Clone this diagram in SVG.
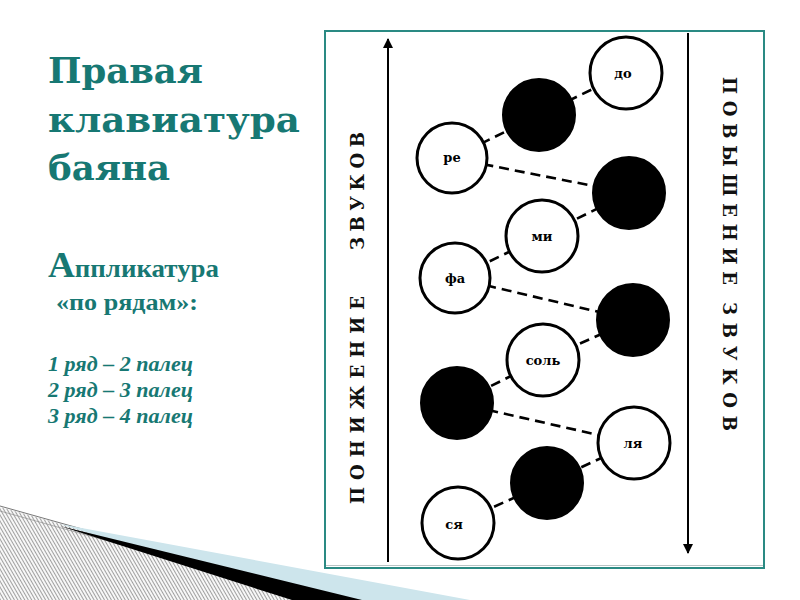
<svg xmlns="http://www.w3.org/2000/svg" width="800" height="600" viewBox="0 0 800 600">
<defs>
<style>
.title{font-family:"DejaVu Serif",serif;font-weight:bold;font-size:36px;fill:#177873}
.sub{font-family:"Liberation Serif",serif;font-weight:bold;fill:#177873}
.it{font-family:"Liberation Serif",serif;font-weight:bold;font-style:italic;font-size:20px;fill:#177873}
.vt{font-family:"DejaVu Serif",serif;font-weight:bold;font-size:18px;fill:#111}
.wc{fill:#fff;stroke:#000;stroke-width:3}
.bc{fill:#000;stroke:#000;stroke-width:2}
.lbl{font-family:"DejaVu Serif",serif;font-weight:bold;font-size:13px;fill:#000;text-anchor:middle}
.dash{stroke:#000;stroke-width:2.6;stroke-dasharray:10 6;fill:none}
.axis{stroke:#000;stroke-width:2;fill:none}
</style>
<pattern id="hatch" width="3" height="10" patternUnits="userSpaceOnUse" patternTransform="rotate(-30)">
<rect width="3" height="10" fill="#f7f7f7"/>
<line x1="0.5" y1="0" x2="0.5" y2="10" stroke="#8a8a8a" stroke-width="0.8"/>
</pattern>
<marker id="ah" viewBox="0 0 10 20" refX="9" refY="10" markerWidth="10" markerHeight="20" markerUnits="userSpaceOnUse" orient="auto">
<path d="M0,5 L10,10 L0,15 Z" fill="#000"/>
</marker>
</defs>
<rect width="800" height="600" fill="#fff"/>
<g id="decoration">
<polygon points="0,507 335,600 0,600" fill="url(#hatch)"/>
<line x1="0" y1="506" x2="335" y2="600" stroke="#555" stroke-width="0.8"/>
<line x1="0" y1="511" x2="320" y2="600" stroke="#888" stroke-width="0.6"/>
<polygon points="60,524 470,600 300,600" fill="#cde5ec"/>
<polygon points="60,526 362,600 292,600" fill="#000"/>
</g>
<g id="frame">
<rect x="325" y="31" width="439" height="537" fill="#fff" stroke="#2a8a83" stroke-width="2"/>
<line x1="326" y1="565.5" x2="763" y2="565.5" stroke="#b8c4c4" stroke-width="1"/>
</g>
<g id="heading">
<text class="title" x="48" y="83" textLength="155" lengthAdjust="spacingAndGlyphs">Правая</text>
<text class="title" x="48" y="132" textLength="252" lengthAdjust="spacingAndGlyphs">клавиатура</text>
<text class="title" x="48" y="180" textLength="122" lengthAdjust="spacingAndGlyphs">баяна</text>
<text class="sub" x="48" y="277" textLength="171" lengthAdjust="spacingAndGlyphs"><tspan font-size="36">А</tspan><tspan font-size="26">ппликатура</tspan></text>
<text class="sub" x="56" y="310" font-size="24" textLength="142" lengthAdjust="spacingAndGlyphs">«по рядам»:</text>
<text class="it" x="48" y="371" textLength="145" lengthAdjust="spacingAndGlyphs">1 ряд – 2 палец</text>
<text class="it" x="48" y="397" textLength="145" lengthAdjust="spacingAndGlyphs">2 ряд – 3 палец</text>
<text class="it" x="48" y="423" textLength="145" lengthAdjust="spacingAndGlyphs">3 ряд – 4 палец</text>
</g>
<g id="axis-down-label">
<text class="vt" transform="translate(364,504) rotate(-90)" x="0" y="0" textLength="208" lengthAdjust="spacing">ПОНИЖЕНИЕ</text>
<text class="vt" transform="translate(364,250) rotate(-90)" x="0" y="0" textLength="118" lengthAdjust="spacing">ЗВУКОВ</text>
</g>
<g id="axis-up-label">
<text class="vt" transform="translate(723,77) rotate(90)" x="0" y="0" textLength="208" lengthAdjust="spacing">ПОВЫШЕНИЕ</text>
<text class="vt" transform="translate(723,302) rotate(90)" x="0" y="0" textLength="129" lengthAdjust="spacing">ЗВУКОВ</text>
</g>
<g id="connectors">
<line class="axis" x1="388" y1="562" x2="388" y2="39" marker-end="url(#ah)"/>
<line class="axis" x1="688" y1="33" x2="688" y2="553" marker-end="url(#ah)"/>
<line class="dash" x1="539" y1="115" x2="626" y2="73"/>
<line class="dash" x1="452" y1="158" x2="539" y2="115"/>
<line class="dash" x1="452" y1="158" x2="629" y2="193"/>
<line class="dash" x1="629" y1="193" x2="542" y2="236"/>
<line class="dash" x1="542" y1="236" x2="455" y2="278"/>
<line class="dash" x1="455" y1="278" x2="633" y2="320"/>
<line class="dash" x1="633" y1="320" x2="543" y2="360"/>
<line class="dash" x1="543" y1="360" x2="457" y2="403"/>
<line class="dash" x1="457" y1="403" x2="634" y2="443"/>
<line class="dash" x1="634" y1="443" x2="547" y2="483"/>
<line class="dash" x1="547" y1="483" x2="458" y2="523"/>
</g>
<g id="n-do"><circle class="wc" cx="626" cy="73" r="36"/><text class="lbl" x="623" y="78">до</text></g>
<g id="n-b1"><circle class="bc" cx="539" cy="115" r="36"/></g>
<g id="n-re"><circle class="wc" cx="452" cy="158" r="35"/><text class="lbl" x="452" y="162">ре</text></g>
<g id="n-b2"><circle class="bc" cx="629" cy="193" r="36"/></g>
<g id="n-mi"><circle class="wc" cx="542" cy="236" r="36"/><text class="lbl" x="542" y="241">ми</text></g>
<g id="n-fa"><circle class="wc" cx="455" cy="278" r="35"/><text class="lbl" x="455" y="283">фа</text></g>
<g id="n-b3"><circle class="bc" cx="633" cy="320" r="36"/></g>
<g id="n-sol"><circle class="wc" cx="543" cy="360" r="36"/><text class="lbl" x="543" y="365">соль</text></g>
<g id="n-b4"><circle class="bc" cx="457" cy="403" r="36"/></g>
<g id="n-lya"><circle class="wc" cx="634" cy="443" r="36"/><text class="lbl" x="633" y="448">ля</text></g>
<g id="n-b5"><circle class="bc" cx="547" cy="483" r="36"/></g>
<g id="n-sya"><circle class="wc" cx="458" cy="523" r="36"/><text class="lbl" x="454" y="529">ся</text></g>
</svg>
